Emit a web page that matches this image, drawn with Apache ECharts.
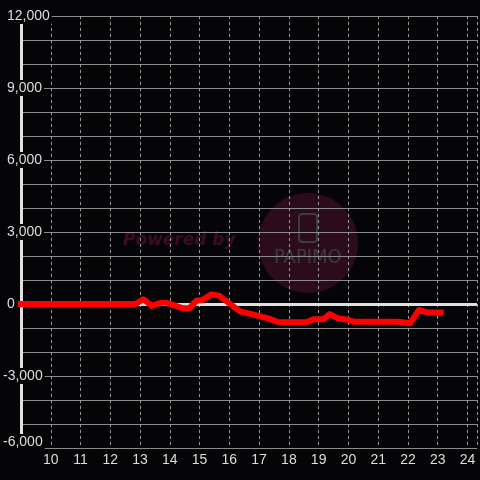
<!DOCTYPE html>
<html>
<head>
<meta charset="utf-8">
<script src="https://cdn.jsdelivr.net/npm/echarts@6/dist/echarts.min.js"></script>
<style>
html,body{margin:0;padding:0;background:#050507;}
#c{width:480px;height:480px;}
</style>
</head>
<body>
<div id="c"></div>
<script>
// Data
const hours  = [8.88, 12.85, 13.1, 13.4, 13.7, 13.9, 14.45, 14.65, 14.9, 15.1, 15.4, 15.65, 16.37, 16.65, 17.3, 17.65, 18.6, 18.82, 19.15, 19.37, 19.65, 19.93, 20.2, 21.65, 22.08, 22.37, 22.65, 23.2];
const values = [0, 0, 200, -80, 50, 50, -180, -180, 140, 170, 400, 350, -320, -390, -600, -760, -760, -640, -640, -420, -600, -640, -740, -740, -800, -250, -350, -350];
const xTickLabels = [10, 11, 12, 13, 14, 15, 16, 17, 18, 19, 20, 21, 22, 23, 24];
const yTickLabels = [-6000, -3000, 0, 3000, 6000, 9000, 12000];

const lineData = hours.map((h, i) => [h, values[i]]);
const BG = '#050507';

const chart = echarts.init(document.getElementById('c'));
chart.setOption({
  backgroundColor: BG,
  animation: false,
  textStyle: { fontFamily: 'Liberation Sans, Arial, sans-serif' },
  graphic: [
    { type: 'circle', z: -10, shape: { cx: 308, cy: 243, r: 50 }, style: { fill: '#2c0b1c' } },
    { type: 'text', z: -9, x: 123, y: 232, style: { text: 'Powered by', fill: '#3a0d1f', font: 'italic bold 17px "DejaVu Sans", sans-serif' } },
    { type: 'rect', z: -9, shape: { x: 299, y: 214, width: 18, height: 28, r: 3 }, style: { fill: 'none', stroke: '#3c3c3c', lineWidth: 2 } },
    { type: 'text', z: -9, x: 274, y: 248, style: { text: 'PAPIMO', fill: '#3c3c3c', font: '20px "DejaVu Sans Condensed", sans-serif' } }
  ],
  grid: { left: 20, right: 0, top: 16, bottom: 32, containLabel: false },
  xAxis: {
    type: 'value', min: 9, max: 24.32, interval: 1,
    axisLine: { show: false }, axisTick: { show: false },
    axisLabel: {
      color: '#dddddd', fontSize: 14, margin: 5,
      formatter: v => (Number.isInteger(v) && xTickLabels.indexOf(v) >= 0) ? String(v) : ''
    },
    splitLine: { show: true, lineStyle: { color: '#9a9a9a', width: 1, type: [3, 3] } }
  },
  yAxis: {
    type: 'value', min: -6000, max: 12000, interval: 1000,
    axisLine: { show: true, lineStyle: { color: '#e0e0e0', width: 3 } },
    axisTick: { show: false },
    splitLine: { show: true, lineStyle: { color: '#8a8a8a', width: 1 } },
    axisLabel: {
      interval: 2, align: 'left', margin: 18, fontSize: 14, color: '#dddddd',
      backgroundColor: BG, padding: [1, 2, 1, 0],
      formatter: v => {
        if (yTickLabels.indexOf(v) < 0) return '';
        const s = v.toLocaleString('en-US');
        if (v === -6000) return '{b|' + s + '}';
        if (v < 0) return '{n|' + s + '}';
        return '{p|' + s + '}';
      },
      rich: {
        p: { padding: [0, 0, 0, 4], fontSize: 14, color: '#dddddd' },
        n: { fontSize: 14, color: '#dddddd' },
        b: { fontSize: 14, color: '#dddddd', padding: [0, 0, 12, 0] }
      }
    }
  },
  series: [
    {
      type: 'line', data: [], z: 1, silent: true,
      markLine: {
        silent: true, symbol: 'none', label: { show: false },
        lineStyle: { color: '#e0e0e0', width: 3, type: 'solid' },
        data: [{ yAxis: 0 }]
      }
    },
    {
      type: 'line', data: lineData, z: 5, clip: false,
      showSymbol: false, symbol: 'none',
      lineStyle: { color: '#ff0000', width: 6, cap: 'butt', join: 'round' }
    }
  ]
});
</script>
</body>
</html>
